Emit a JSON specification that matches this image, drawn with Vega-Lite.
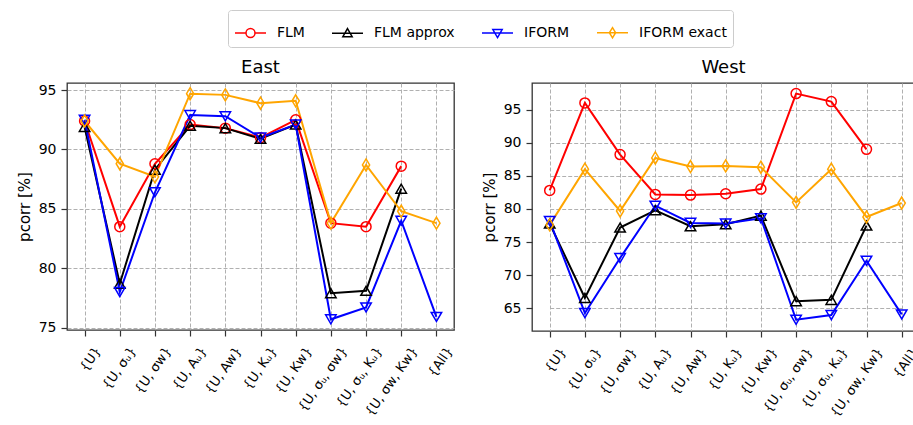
{
  "$schema": "https://vega.github.io/schema/vega-lite/v6.json",
  "padding": {"left": 16, "top": 9, "right": 0, "bottom": 0},
  "background": "white",
  "data": {"values": [
    {"region":"East","series":"FLM","param":"{U}","value":92.4},
    {"region":"East","series":"FLM","param":"{U, σᵤ}","value":83.5},
    {"region":"East","series":"FLM","param":"{U, σw}","value":88.8},
    {"region":"East","series":"FLM","param":"{U, Aᵤ}","value":92.1},
    {"region":"East","series":"FLM","param":"{U, Aw}","value":91.8},
    {"region":"East","series":"FLM","param":"{U, Kᵤ}","value":91.0},
    {"region":"East","series":"FLM","param":"{U, Kw}","value":92.5},
    {"region":"East","series":"FLM","param":"{U, σᵤ, σw}","value":83.8},
    {"region":"East","series":"FLM","param":"{U, σᵤ, Kᵤ}","value":83.5},
    {"region":"East","series":"FLM","param":"{U, σw, Kw}","value":88.6},
    {"region":"East","series":"FLM approx","param":"{U}","value":91.9},
    {"region":"East","series":"FLM approx","param":"{U, σᵤ}","value":78.7},
    {"region":"East","series":"FLM approx","param":"{U, σw}","value":88.3},
    {"region":"East","series":"FLM approx","param":"{U, Aᵤ}","value":92.0},
    {"region":"East","series":"FLM approx","param":"{U, Aw}","value":91.8},
    {"region":"East","series":"FLM approx","param":"{U, Kᵤ}","value":90.9},
    {"region":"East","series":"FLM approx","param":"{U, Kw}","value":92.1},
    {"region":"East","series":"FLM approx","param":"{U, σᵤ, σw}","value":77.9},
    {"region":"East","series":"FLM approx","param":"{U, σᵤ, Kᵤ}","value":78.1},
    {"region":"East","series":"FLM approx","param":"{U, σw, Kw}","value":86.7},
    {"region":"East","series":"IFORM","param":"{U}","value":92.5},
    {"region":"East","series":"IFORM","param":"{U, σᵤ}","value":78.0},
    {"region":"East","series":"IFORM","param":"{U, σw}","value":86.4},
    {"region":"East","series":"IFORM","param":"{U, Aᵤ}","value":92.9},
    {"region":"East","series":"IFORM","param":"{U, Aw}","value":92.8},
    {"region":"East","series":"IFORM","param":"{U, Kᵤ}","value":91.0},
    {"region":"East","series":"IFORM","param":"{U, Kw}","value":92.1},
    {"region":"East","series":"IFORM","param":"{U, σᵤ, σw}","value":75.7},
    {"region":"East","series":"IFORM","param":"{U, σᵤ, Kᵤ}","value":76.7},
    {"region":"East","series":"IFORM","param":"{U, σw, Kw}","value":84.0},
    {"region":"East","series":"IFORM","param":"{All}","value":75.9},
    {"region":"East","series":"IFORM exact","param":"{U}","value":92.4},
    {"region":"East","series":"IFORM exact","param":"{U, σᵤ}","value":88.8},
    {"region":"East","series":"IFORM exact","param":"{U, σw}","value":87.7},
    {"region":"East","series":"IFORM exact","param":"{U, Aᵤ}","value":94.7},
    {"region":"East","series":"IFORM exact","param":"{U, Aw}","value":94.6},
    {"region":"East","series":"IFORM exact","param":"{U, Kᵤ}","value":93.9},
    {"region":"East","series":"IFORM exact","param":"{U, Kw}","value":94.1},
    {"region":"East","series":"IFORM exact","param":"{U, σᵤ, σw}","value":83.8},
    {"region":"East","series":"IFORM exact","param":"{U, σᵤ, Kᵤ}","value":88.7},
    {"region":"East","series":"IFORM exact","param":"{U, σw, Kw}","value":84.8},
    {"region":"East","series":"IFORM exact","param":"{All}","value":83.8},
    {"region":"West","series":"FLM","param":"{U}","value":82.8},
    {"region":"West","series":"FLM","param":"{U, σᵤ}","value":96.0},
    {"region":"West","series":"FLM","param":"{U, σw}","value":88.2},
    {"region":"West","series":"FLM","param":"{U, Aᵤ}","value":82.2},
    {"region":"West","series":"FLM","param":"{U, Aw}","value":82.1},
    {"region":"West","series":"FLM","param":"{U, Kᵤ}","value":82.3},
    {"region":"West","series":"FLM","param":"{U, Kw}","value":83.0},
    {"region":"West","series":"FLM","param":"{U, σᵤ, σw}","value":97.4},
    {"region":"West","series":"FLM","param":"{U, σᵤ, Kᵤ}","value":96.2},
    {"region":"West","series":"FLM","param":"{U, σw, Kw}","value":89.0},
    {"region":"West","series":"FLM approx","param":"{U}","value":77.8},
    {"region":"West","series":"FLM approx","param":"{U, σᵤ}","value":66.6},
    {"region":"West","series":"FLM approx","param":"{U, σw}","value":77.2},
    {"region":"West","series":"FLM approx","param":"{U, Aᵤ}","value":79.8},
    {"region":"West","series":"FLM approx","param":"{U, Aw}","value":77.4},
    {"region":"West","series":"FLM approx","param":"{U, Kᵤ}","value":77.7},
    {"region":"West","series":"FLM approx","param":"{U, Kw}","value":79.0},
    {"region":"West","series":"FLM approx","param":"{U, σᵤ, σw}","value":66.1},
    {"region":"West","series":"FLM approx","param":"{U, σᵤ, Kᵤ}","value":66.3},
    {"region":"West","series":"FLM approx","param":"{U, σw, Kw}","value":77.5},
    {"region":"West","series":"IFORM","param":"{U}","value":78.2},
    {"region":"West","series":"IFORM","param":"{U, σᵤ}","value":64.3},
    {"region":"West","series":"IFORM","param":"{U, σw}","value":72.6},
    {"region":"West","series":"IFORM","param":"{U, Aᵤ}","value":80.5},
    {"region":"West","series":"IFORM","param":"{U, Aw}","value":77.9},
    {"region":"West","series":"IFORM","param":"{U, Kᵤ}","value":77.8},
    {"region":"West","series":"IFORM","param":"{U, Kw}","value":78.6},
    {"region":"West","series":"IFORM","param":"{U, σᵤ, σw}","value":63.3},
    {"region":"West","series":"IFORM","param":"{U, σᵤ, Kᵤ}","value":64.0},
    {"region":"West","series":"IFORM","param":"{U, σw, Kw}","value":72.2},
    {"region":"West","series":"IFORM","param":"{All}","value":64.1},
    {"region":"West","series":"IFORM exact","param":"{U}","value":77.6},
    {"region":"West","series":"IFORM exact","param":"{U, σᵤ}","value":86.0},
    {"region":"West","series":"IFORM exact","param":"{U, σw}","value":79.7},
    {"region":"West","series":"IFORM exact","param":"{U, Aᵤ}","value":87.7},
    {"region":"West","series":"IFORM exact","param":"{U, Aw}","value":86.4},
    {"region":"West","series":"IFORM exact","param":"{U, Kᵤ}","value":86.5},
    {"region":"West","series":"IFORM exact","param":"{U, Kw}","value":86.3},
    {"region":"West","series":"IFORM exact","param":"{U, σᵤ, σw}","value":81.0},
    {"region":"West","series":"IFORM exact","param":"{U, σᵤ, Kᵤ}","value":86.0},
    {"region":"West","series":"IFORM exact","param":"{U, σw, Kw}","value":78.8},
    {"region":"West","series":"IFORM exact","param":"{All}","value":80.9}
  ]},
  "spacing": 25,
  "hconcat": [
    {
      "width": 387,
      "height": 247,
      "title": {"text": "East"},
      "transform": [{"filter": "datum.region === 'East'"}],
      "encoding": {
        "x": {"field": "param", "type": "ordinal",
              "sort": ["{U}", "{U, σᵤ}", "{U, σw}", "{U, Aᵤ}", "{U, Aw}", "{U, Kᵤ}", "{U, Kw}", "{U, σᵤ, σw}", "{U, σᵤ, Kᵤ}", "{U, σw, Kw}", "{All}"],
              "scale": {"type": "point", "padding": 0.5},
              "axis": {"title": null, "labelAngle": -55, "labelAlign": "right", "labelBaseline": "middle", "labelFontSize": 13, "labelPadding": 12, "labelOffset": 13}},
        "y": {"field": "value", "type": "quantitative",
              "scale": {"domain": [74.8, 95.6], "nice": false, "zero": false},
              "axis": {"values": [75, 80, 85, 90, 95], "title": "pcorr [%]"}},
        "color": {"field": "series", "type": "nominal",
                  "scale": {"domain": ["FLM", "FLM approx", "IFORM", "IFORM exact"], "range": ["#ff0000", "#000000", "#0000ff", "#ffa500"]},
                  "legend": {"orient": "none", "legendX": 161, "legendY": -73, "direction": "horizontal", "title": null}}
      },
      "layer": [
        {"mark": {"type": "line", "strokeWidth": 2}},
        {"transform": [{"filter": "datum.series === 'FLM'"}], "mark": {"type": "point", "shape": "circle", "filled": false, "strokeWidth": 1.5, "size": 100, "opacity": 1}},
        {"transform": [{"filter": "datum.series === 'FLM approx'"}], "mark": {"type": "point", "shape": "triangle-up", "filled": false, "strokeWidth": 1.5, "size": 110, "opacity": 1}},
        {"transform": [{"filter": "datum.series === 'IFORM'"}], "mark": {"type": "point", "shape": "triangle-down", "filled": false, "strokeWidth": 1.5, "size": 110, "opacity": 1}},
        {"transform": [{"filter": "datum.series === 'IFORM exact'"}], "mark": {"type": "point", "shape": "M0,-1L0.6,0L0,1L-0.6,0Z", "filled": false, "strokeWidth": 1.5, "size": 144, "opacity": 1}},
        {"mark": {"type": "point", "filled": false, "opacity": 0},
         "encoding": {"shape": {"field": "series", "type": "nominal",
                                "scale": {"domain": ["FLM", "FLM approx", "IFORM", "IFORM exact"], "range": ["M-1,0L-0.29,0M0.29,0L1,0M-0.29,0A0.29,0.29 0 1 0 0.29,0A0.29,0.29 0 1 0 -0.29,0", "M-1,0L1,0M0,-0.3L0.3,0.22L-0.3,0.22Z", "M-1,0L1,0M0,0.3L0.3,-0.22L-0.3,-0.22Z", "M-1,0L1,0M0,-0.33L0.2,0L0,0.33L-0.2,0Z"]},
                                "legend": {"orient": "none", "legendX": 161, "legendY": -73, "direction": "horizontal", "title": null}}}}
      ]
    },
    {
      "width": 383,
      "height": 248,
      "title": {"text": "West"},
      "transform": [{"filter": "datum.region === 'West'"}],
      "encoding": {
        "x": {"field": "param", "type": "ordinal",
              "sort": ["{U}", "{U, σᵤ}", "{U, σw}", "{U, Aᵤ}", "{U, Aw}", "{U, Kᵤ}", "{U, Kw}", "{U, σᵤ, σw}", "{U, σᵤ, Kᵤ}", "{U, σw, Kw}", "{All}"],
              "scale": {"type": "point", "padding": 0, "range": [17.7, 369.7]},
              "axis": {"title": null, "labelAngle": -55, "labelAlign": "right", "labelBaseline": "middle", "labelFontSize": 13, "labelPadding": 12, "labelOffset": 13}},
        "y": {"field": "value", "type": "quantitative",
              "scale": {"domain": [61.6, 99.0], "nice": false, "zero": false},
              "axis": {"values": [65, 70, 75, 80, 85, 90, 95], "title": "pcorr [%]"}},
        "color": {"field": "series", "type": "nominal",
                  "scale": {"domain": ["FLM", "FLM approx", "IFORM", "IFORM exact"], "range": ["#ff0000", "#000000", "#0000ff", "#ffa500"]}}
      },
      "layer": [
        {"mark": {"type": "line", "strokeWidth": 2}},
        {"transform": [{"filter": "datum.series === 'FLM'"}], "mark": {"type": "point", "shape": "circle", "filled": false, "strokeWidth": 1.5, "size": 100, "opacity": 1}},
        {"transform": [{"filter": "datum.series === 'FLM approx'"}], "mark": {"type": "point", "shape": "triangle-up", "filled": false, "strokeWidth": 1.5, "size": 110, "opacity": 1}},
        {"transform": [{"filter": "datum.series === 'IFORM'"}], "mark": {"type": "point", "shape": "triangle-down", "filled": false, "strokeWidth": 1.5, "size": 110, "opacity": 1}},
        {"transform": [{"filter": "datum.series === 'IFORM exact'"}], "mark": {"type": "point", "shape": "M0,-1L0.6,0L0,1L-0.6,0Z", "filled": false, "strokeWidth": 1.5, "size": 144, "opacity": 1}}
      ]
    }
  ],
  "config": {
    "font": "DejaVu Sans",
    "view": {"stroke": "#333333", "strokeWidth": 1.3},
    "title": {"fontSize": 18, "fontWeight": "normal", "color": "#000000", "offset": 6},
    "axis": {"labelColor": "#000000", "titleColor": "#000000", "tickColor": "#333333", "tickWidth": 1.2, "tickSize": 6, "domain": false,
             "grid": true, "gridColor": "#b0b0b0", "gridDash": [4, 2], "gridWidth": 1},
    "axisY": {"labelFontSize": 14, "labelPadding": 5, "titleFontSize": 15, "titleFontWeight": "normal", "titlePadding": 6},
    "axisX": {"labelOverlap": false, "labelBound": false, "labelFlush": false},
    "legend": {"labelFontSize": 14, "labelColor": "#000000", "labelOffset": 10, "columnPadding": 24, "symbolSize": 961, "symbolOpacity": 1,
               "strokeColor": "#cccccc", "fillColor": "#ffffff", "cornerRadius": 3, "padding": 6, "symbolStrokeWidth": 1.5}
  }
}
